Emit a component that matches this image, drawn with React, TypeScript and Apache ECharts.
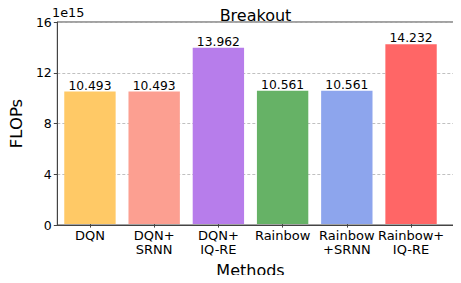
import React, { useEffect, useRef } from "react";
import * as echarts from "echarts";

const categories = ["DQN", "DQN+\nSRNN", "DQN+\nIQ-RE", "Rainbow", "Rainbow\n+SRNN", "Rainbow+\nIQ-RE"];
const values = [10.493, 10.493, 13.962, 10.561, 10.561, 14.232];
const colors = ["#FFC966", "#FC9F91", "#B77DEB", "#66B266", "#8DA5ED", "#FF6666"];
const yTicks = [0, 4, 8, 12, 16];

const FONT = "DejaVu Sans";

export default function App() {
  const ref = useRef<HTMLDivElement>(null);
  useEffect(() => {
    if (!ref.current) return;
    const chart = echarts.init(ref.current, null, { renderer: "svg" });
    // plot frame 45..456 (411px) covers -0.7..5.7 in matplotlib units (6.4 units)
    const unit = 411 / 6.4;
    const inset = 0.2 * unit;
    chart.setOption({
      animation: false,
      backgroundColor: "#ffffff",
      title: {
        text: "Breakout",
        left: 250.5,
        textAlign: "center",
        top: 2,
        textStyle: { fontFamily: FONT, fontSize: 16, fontWeight: "normal", color: "#000" },
      },
      graphic: [
        {
          type: "text",
          left: 52,
          top: 6,
          style: { text: "1e15", fontFamily: FONT, fontSize: 12.8, fill: "#000" },
        },
      ],
      grid: [
        {
          left: 45,
          right: 5,
          top: 22,
          bottom: 58,
          show: true,
          borderColor: "#444",
          borderWidth: 1,
          backgroundColor: "transparent",
        },
        {
          left: 45 + inset,
          right: 5 + inset,
          top: 22,
          bottom: 58,
        },
      ],
      xAxis: [
        {
          type: "value",
          gridIndex: 0,
          min: 0,
          max: 1,
          axisLine: { show: true, lineStyle: { color: "#444", width: 1 } },
          axisTick: { show: false },
          axisLabel: { show: false },
          splitLine: { show: false },
        },
        {
          type: "category",
          gridIndex: 1,
          data: categories,
          name: "Methods",
          nameLocation: "middle",
          nameGap: 33,
          nameTextStyle: { fontFamily: FONT, fontSize: 16, color: "#000" },
          axisLine: { show: false },
          axisTick: { show: true, alignWithLabel: true, length: 3.5, lineStyle: { color: "#444" } },
          axisLabel: {
            interval: 0,
            margin: 4,
            fontFamily: FONT,
            fontSize: 13,
            lineHeight: 14.5,
            color: "#000",
          },
          splitLine: { show: false },
        },
      ],
      yAxis: [
        {
          type: "value",
          gridIndex: 0,
          min: 0,
          max: 16,
          interval: 4,
          name: "FLOPs",
          nameLocation: "middle",
          nameRotate: 90,
          nameGap: 31,
          nameTextStyle: { fontFamily: FONT, fontSize: 16.5, color: "#000" },
          axisLine: { show: true, onZero: false, lineStyle: { color: "#444", width: 1 } },
          axisTick: { show: true, length: 3.5, lineStyle: { color: "#444" } },
          axisLabel: {
            margin: 5.5,
            fontFamily: FONT,
            fontSize: 12.5,
            color: "#000",
            formatter: (v: number) => (yTicks.includes(v) ? String(v) : ""),
          },
          splitLine: { show: true, lineStyle: { color: "#b0b0b0", type: [3, 2], width: 0.8 } },
        },
        {
          type: "value",
          gridIndex: 1,
          min: 0,
          max: 16,
          interval: 4,
          show: false,
          splitLine: { show: false },
        },
      ],
      series: [
        {
          type: "bar",
          xAxisIndex: 1,
          yAxisIndex: 1,
          barWidth: "80%",
          data: values.map((v, i) => ({
            value: v,
            itemStyle: { color: colors[i] },
          })),
          label: {
            show: true,
            position: "top",
            distance: 0,
            fontFamily: FONT,
            fontSize: 12.3,
            color: "#000",
            formatter: (p: any) => values[p.dataIndex].toFixed(3),
          },
        },
      ],
    });
    return () => chart.dispose();
  }, []);
  return <div ref={ref} style={{ width: 461, height: 283, margin: -8 }} />;
}
